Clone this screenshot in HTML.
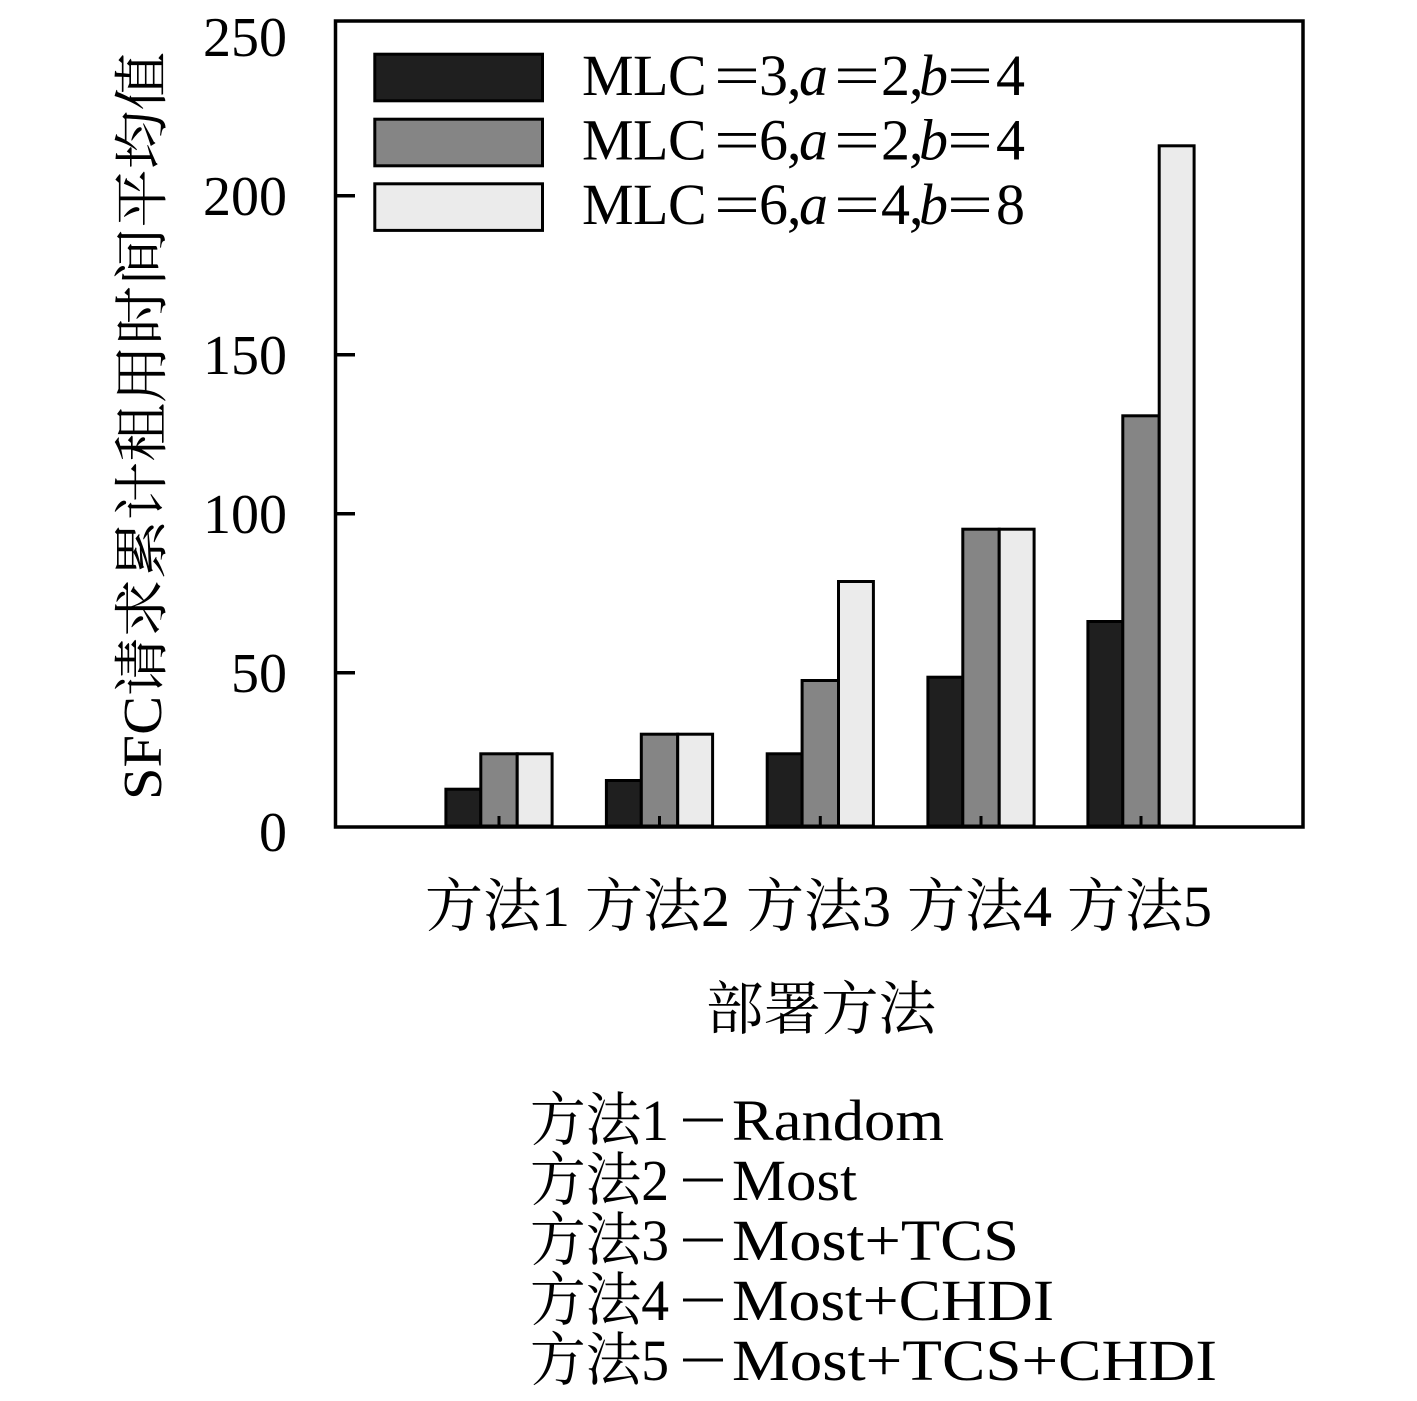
<!DOCTYPE html>
<html>
<head>
<meta charset="utf-8">
<style>
  html, body { margin: 0; padding: 0; background: #ffffff; }
  svg { display: block; }
  .lat { font-family: "Liberation Serif", "Noto Serif CJK SC", serif; fill: #000; }
  .cjk { font-family: "Liberation Serif", "Noto Serif CJK SC", serif; fill: #000; }
</style>
</head>
<body>
<svg width="1417" height="1401" viewBox="0 0 1417 1401" xmlns="http://www.w3.org/2000/svg">
  <rect x="0" y="0" width="1417" height="1401" fill="#ffffff"/>

  <!-- Bars -->
  <g stroke="#000" stroke-width="3" stroke-linejoin="miter">
    <!-- Group 1 c=499 -->
    <rect x="445.9" y="789.2" width="34.9" height="36.8" fill="#1f1f1f"/>
    <rect x="480.8" y="753.8" width="36.4" height="72.2" fill="#858585"/>
    <rect x="517.2" y="753.8" width="34.9" height="72.2" fill="#ebebeb"/>
    <!-- Group 2 c=659.5 -->
    <rect x="606.4" y="780.5" width="34.9" height="45.5" fill="#1f1f1f"/>
    <rect x="641.3" y="734.2" width="36.4" height="91.8" fill="#858585"/>
    <rect x="677.7" y="734.2" width="34.9" height="91.8" fill="#ebebeb"/>
    <!-- Group 3 c=820.3 -->
    <rect x="767.2" y="753.8" width="34.9" height="72.2" fill="#1f1f1f"/>
    <rect x="802.1" y="680.5" width="36.4" height="145.5" fill="#858585"/>
    <rect x="838.5" y="581.5" width="34.9" height="244.5" fill="#ebebeb"/>
    <!-- Group 4 c=981 -->
    <rect x="927.9" y="677.2" width="34.9" height="148.8" fill="#1f1f1f"/>
    <rect x="962.8" y="529.2" width="36.4" height="296.8" fill="#858585"/>
    <rect x="999.2" y="529.2" width="34.9" height="296.8" fill="#ebebeb"/>
    <!-- Group 5 c=1141 -->
    <rect x="1087.9" y="621.5" width="34.9" height="204.5" fill="#1f1f1f"/>
    <rect x="1122.8" y="415.8" width="36.4" height="410.2" fill="#858585"/>
    <rect x="1159.2" y="145.8" width="34.9" height="680.2" fill="#ebebeb"/>
  </g>

  <!-- x ticks -->
  <g stroke="#000" stroke-width="3">
    <line x1="499" y1="816" x2="499" y2="827"/>
    <line x1="659.5" y1="816" x2="659.5" y2="827"/>
    <line x1="820.3" y1="816" x2="820.3" y2="827"/>
    <line x1="981" y1="816" x2="981" y2="827"/>
    <line x1="1141" y1="816" x2="1141" y2="827"/>
  </g>

  <!-- y ticks -->
  <g stroke="#000" stroke-width="3.5">
    <line x1="335" y1="672.7" x2="355" y2="672.7"/>
    <line x1="335" y1="513.7" x2="355" y2="513.7"/>
    <line x1="335" y1="354.7" x2="355" y2="354.7"/>
    <line x1="335" y1="195.7" x2="355" y2="195.7"/>
  </g>

  <!-- Axes frame -->
  <rect x="335.5" y="21" width="967.5" height="806" fill="none" stroke="#000" stroke-width="3.5"/>

  <!-- Legend patches -->
  <g stroke="#000" stroke-width="3">
    <rect x="374.8" y="54.2" width="167.7" height="46.6" fill="#1f1f1f"/>
    <rect x="374.8" y="119.2" width="167.7" height="46.6" fill="#858585"/>
    <rect x="374.8" y="183.8" width="167.7" height="46.6" fill="#ebebeb"/>
  </g>

  <!-- Legend text -->
  <g class="lat" font-size="58">
    <!-- row 1 -->
    <text y="95" x="582 633 668">MLC</text>
    <text y="95" x="714" textLength="46" lengthAdjust="spacingAndGlyphs">=</text>
    <text y="95" x="759">3</text>
    <text y="95" x="787">,</text>
    <text y="95" x="799" font-style="italic">a</text>
    <text y="95" x="834" textLength="46" lengthAdjust="spacingAndGlyphs">=</text>
    <text y="95" x="881">2</text>
    <text y="95" x="909">,</text>
    <text y="95" x="919" font-style="italic">b</text>
    <text y="95" x="947" textLength="46" lengthAdjust="spacingAndGlyphs">=</text>
    <text y="95" x="996">4</text>
    <!-- row 2 -->
    <text y="159.5" x="582 633 668">MLC</text>
    <text y="159.5" x="714" textLength="46" lengthAdjust="spacingAndGlyphs">=</text>
    <text y="159.5" x="759">6</text>
    <text y="159.5" x="787">,</text>
    <text y="159.5" x="799" font-style="italic">a</text>
    <text y="159.5" x="834" textLength="46" lengthAdjust="spacingAndGlyphs">=</text>
    <text y="159.5" x="881">2</text>
    <text y="159.5" x="909">,</text>
    <text y="159.5" x="919" font-style="italic">b</text>
    <text y="159.5" x="947" textLength="46" lengthAdjust="spacingAndGlyphs">=</text>
    <text y="159.5" x="996">4</text>
    <!-- row 3 -->
    <text y="224" x="582 633 668">MLC</text>
    <text y="224" x="714" textLength="46" lengthAdjust="spacingAndGlyphs">=</text>
    <text y="224" x="759">6</text>
    <text y="224" x="787">,</text>
    <text y="224" x="799" font-style="italic">a</text>
    <text y="224" x="834" textLength="46" lengthAdjust="spacingAndGlyphs">=</text>
    <text y="224" x="881">4</text>
    <text y="224" x="909">,</text>
    <text y="224" x="919" font-style="italic">b</text>
    <text y="224" x="947" textLength="46" lengthAdjust="spacingAndGlyphs">=</text>
    <text y="224" x="996">8</text>
  </g>

  <!-- y tick labels -->
  <g class="lat" font-size="56" text-anchor="end">
    <text x="287" y="851">0</text>
    <text x="287" y="692">50</text>
    <text x="287" y="533">100</text>
    <text x="287" y="374">150</text>
    <text x="287" y="215">200</text>
    <text x="287" y="56">250</text>
  </g>

  <!-- y axis label -->
  <text class="cjk" font-size="55" transform="translate(161,800) rotate(-90)" textLength="748" lengthAdjust="spacingAndGlyphs">SFC请求累计租用时间平均值</text>

  <!-- x tick labels -->
  <g class="cjk" font-size="58">
    <text x="425" y="926" textLength="145" lengthAdjust="spacingAndGlyphs">方法1</text>
    <text x="585" y="926" textLength="145" lengthAdjust="spacingAndGlyphs">方法2</text>
    <text x="746" y="926" textLength="145" lengthAdjust="spacingAndGlyphs">方法3</text>
    <text x="907" y="926" textLength="145" lengthAdjust="spacingAndGlyphs">方法4</text>
    <text x="1067" y="926" textLength="145" lengthAdjust="spacingAndGlyphs">方法5</text>
  </g>

  <!-- x axis label -->
  <text class="cjk" font-size="58" x="706" y="1029" textLength="230" lengthAdjust="spacingAndGlyphs">部署方法</text>

  <!-- bottom notes -->
  <g class="cjk" font-size="58">
    <text x="530" y="1140" textLength="139" lengthAdjust="spacingAndGlyphs">方法1</text>
    <text x="530" y="1200" textLength="139" lengthAdjust="spacingAndGlyphs">方法2</text>
    <text x="530" y="1260" textLength="139" lengthAdjust="spacingAndGlyphs">方法3</text>
    <text x="530" y="1320" textLength="139" lengthAdjust="spacingAndGlyphs">方法4</text>
    <text x="530" y="1380" textLength="139" lengthAdjust="spacingAndGlyphs">方法5</text>
  </g>
  <g stroke="#000" stroke-width="3">
    <line x1="683" y1="1120" x2="723" y2="1120"/>
    <line x1="683" y1="1180" x2="723" y2="1180"/>
    <line x1="683" y1="1240" x2="723" y2="1240"/>
    <line x1="683" y1="1300" x2="723" y2="1300"/>
    <line x1="683" y1="1360" x2="723" y2="1360"/>
  </g>
  <g class="lat" font-size="58">
    <text x="732" y="1140" textLength="212" lengthAdjust="spacingAndGlyphs">Random</text>
    <text x="732" y="1200" textLength="125" lengthAdjust="spacingAndGlyphs">Most</text>
    <text x="732" y="1260" textLength="287" lengthAdjust="spacingAndGlyphs">Most+TCS</text>
    <text x="732" y="1320" textLength="322" lengthAdjust="spacingAndGlyphs">Most+CHDI</text>
    <text x="732" y="1380" textLength="485" lengthAdjust="spacingAndGlyphs">Most+TCS+CHDI</text>
  </g>
</svg>
</body>
</html>
